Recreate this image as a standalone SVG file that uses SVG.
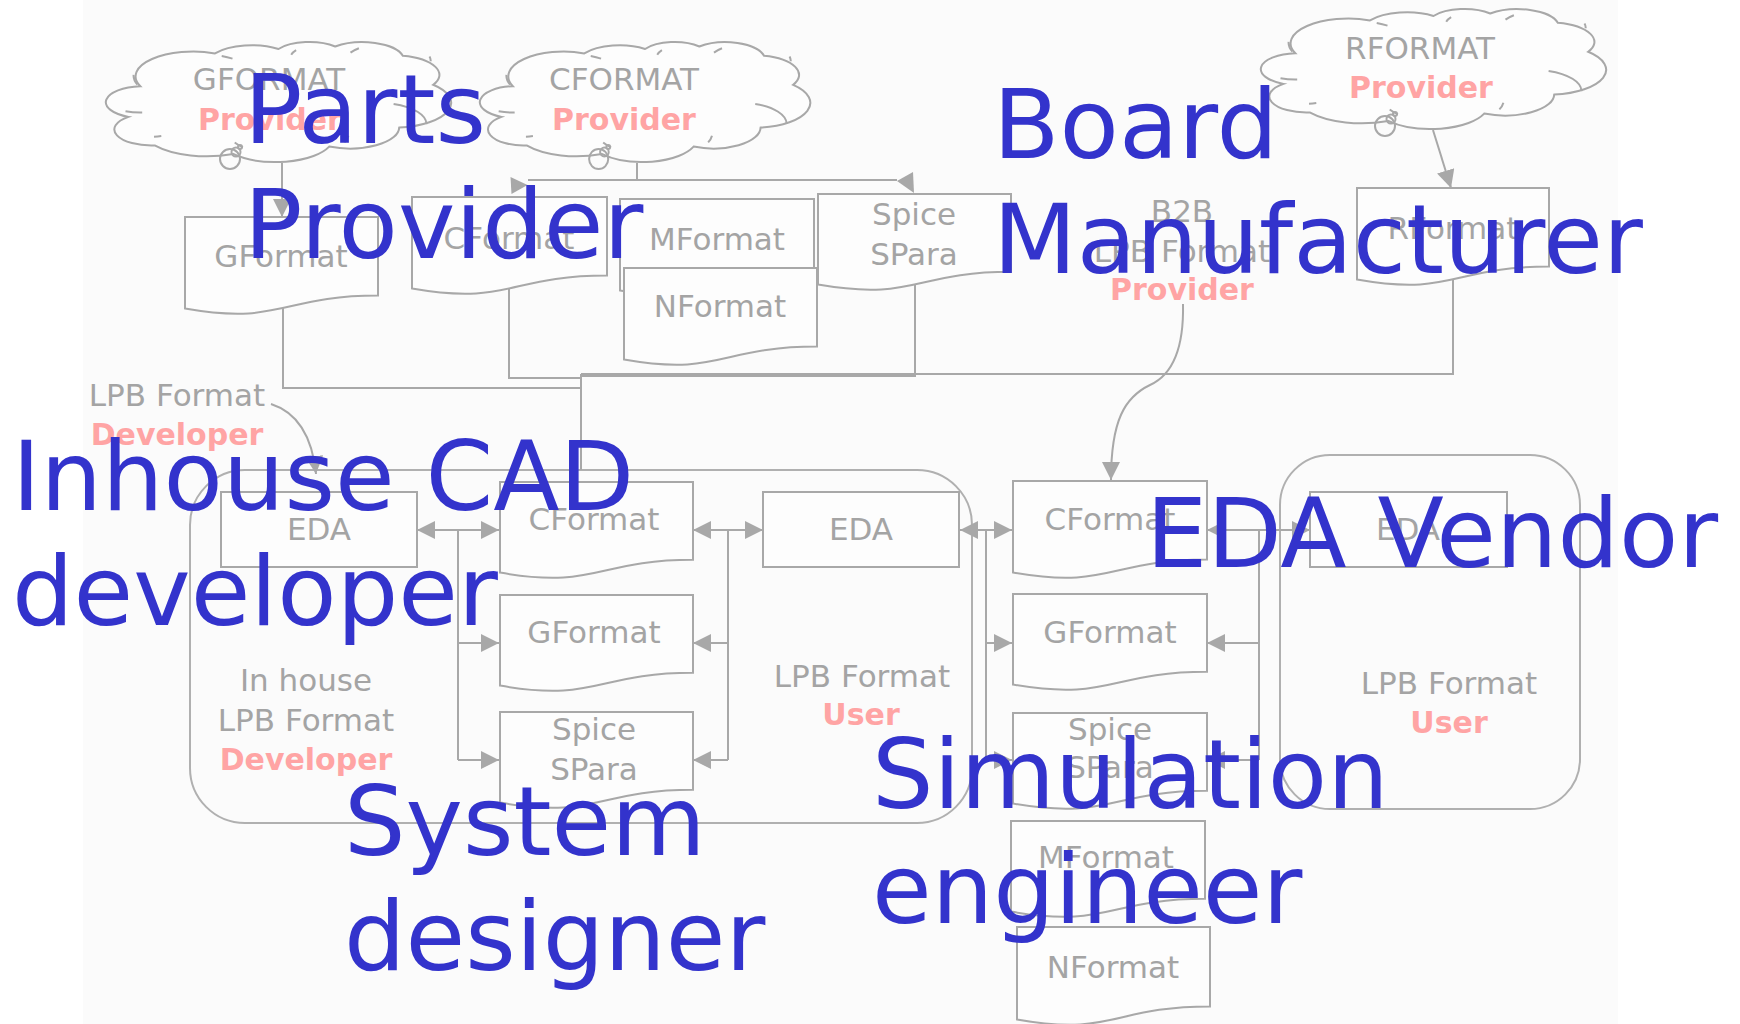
<svg xmlns="http://www.w3.org/2000/svg" width="1740" height="1024" viewBox="0 0 1740 1024">
<style>
  .ln{fill:none;stroke:#a8a8a8;stroke-width:2}
  .sh{fill:#fdfdfd;stroke:#a8a8a8;stroke-width:2}
  .fr{fill:none;stroke:#b0b0b0;stroke-width:2}
  .t{font-family:"DejaVu Sans",Verdana,sans-serif;font-size:31px;fill:#a4a4a4;text-anchor:middle}
  .p{font-family:"DejaVu Sans",Verdana,sans-serif;font-size:30px;font-weight:bold;fill:#ffa4a4;text-anchor:middle}
  .big{font-family:"DejaVu Sans",Verdana,sans-serif;font-size:97px;fill:#3333cc}
  .ah{fill:#a8a8a8}
</style>
<defs>
  <marker id="arrow" viewBox="0 0 18 18" refX="18" refY="9" markerWidth="18" markerHeight="18" markerUnits="userSpaceOnUse" orient="auto-start-reverse">
    <path d="M0,0L18,9L0,18z" class="ah"/>
  </marker>
  <!-- callout cloud, 345 x 120 -->
  <g id="cloud">
    <path class="sh" vector-effect="non-scaling-stroke" d="M34.3,44.2A57.7,24.8 0 0 1 109,11.4A45.6,19.6 0 0 1 172.5,7A37.3,16 0 0 1 229.2,4.5A41.5,17.8 0 0 1 296.8,13.7A45.6,19.6 0 0 1 327.2,42.8A57.9,24.9 0 0 1 293.2,85.6A49.4,21.2 0 0 1 223.2,104.6A57.7,24.9 0 0 1 127.2,111.9A65.9,28.5 0 0 1 48.7,103.4A37.2,16 0 0 1 22.5,74.9A37.1,16 0 0 1 34.3,44.2Z"/>
    <path class="ln" vector-effect="non-scaling-stroke" d="M36.2,70.6A37.1,16 0 0 1 19.5,69.3M55.3,94.1A37.2,16 0 0 1 48,94.7M136.9,105.4A57.7,24.9 0 0 1 128.7,100.5M242.4,93.7A57.7,24.9 0 0 1 238.4,100.4M287.6,61.9A49.4,21.2 0 0 1 320.4,82.1M323.5,14.6A41.5,17.8 0 0 1 324.7,19.2M244.5,10.6A41.5,17.8 0 0 1 252.9,6.3M185.2,12.7A37.3,16 0 0 1 190.1,8.2M115.7,14A57.7,24.8 0 0 1 126.5,16.6M31.4,42.6A57.7,24.8 0 0 1 27.6,32.9"/>
    <circle class="ln" vector-effect="non-scaling-stroke" cx="124" cy="117" r="10"/>
    <circle class="ln" vector-effect="non-scaling-stroke" cx="130" cy="110" r="4.5"/>
    <circle class="ln" vector-effect="non-scaling-stroke" cx="134" cy="105" r="2"/>
  </g>
</defs>

<rect width="1740" height="1024" fill="#ffffff"/>
<rect x="83" y="0" width="1535" height="1024" fill="#fbfbfb"/>

<!-- role frames -->
<g id="system-frame">
  <rect class="fr" x="190" y="470" width="782" height="353" rx="55"/>
  <text class="t" x="306" y="691">In house</text>
  <text class="t" x="306" y="731">LPB Format</text>
  <text class="p" x="306" y="770">Developer</text>
  <text class="t" x="862" y="687">LPB Format</text>
  <text class="p" x="861" y="725">User</text>
</g>
<g id="vendor-frame">
  <rect class="fr" x="1280" y="455" width="300" height="354" rx="50"/>
  <text class="t" x="1449" y="694">LPB Format</text>
  <text class="p" x="1449" y="733">User</text>
</g>

<!-- providers -->
<g id="gformat-provider">
  <use href="#cloud" x="106" y="42"/>
  <text class="t" x="269" y="90">GFORMAT</text>
  <text class="p" x="270" y="130">Provider</text>
</g>
<g id="cformat-provider">
  <use href="#cloud" transform="translate(480,42) scale(0.957,1)"/>
  <text class="t" x="624" y="90">CFORMAT</text>
  <text class="p" x="624" y="130">Provider</text>
</g>
<g id="rformat-provider">
  <use href="#cloud" x="1261" y="9"/>
  <text class="t" x="1420" y="59">RFORMAT</text>
  <text class="p" x="1421" y="98">Provider</text>
</g>
<g id="b2b-provider">
  <text class="t" x="1182" y="222">B2B</text>
  <text class="t" x="1182" y="262">LPB Format</text>
  <text class="p" x="1182" y="300">Provider</text>
</g>
<g id="lpb-developer">
  <text class="t" x="177" y="406">LPB Format</text>
  <text class="p" x="177" y="445">Developer</text>
</g>

<!-- connectors -->
<g id="connectors">
  <path class="ln" d="M282,163V217" marker-end="url(#arrow)"/>
  <path class="ln" d="M637,163V180H528M637,180H897"/>
  <path class="ah" d="M510.5,177L527.5,185L511.5,194Z"/>
  <path class="ah" d="M913,172L897,181L914,193Z"/>
  <path class="ln" d="M1433,130L1451,188" marker-end="url(#arrow)"/>
  <path class="ln" d="M283,308V388H581M509,288V378H581M915,285V376H581M1453,280V374H581M581,374V470"/>
  <path class="ln" d="M1183,304C1184,350 1172,375 1150,385C1125,397 1111,420 1111,480" marker-end="url(#arrow)"/>
  <path class="ln" d="M271,404C296,412 312,435 316,474" marker-end="url(#arrow)"/>

  <path class="ln" d="M417,530H499" marker-start="url(#arrow)" marker-end="url(#arrow)"/>
  <path class="ln" d="M458,530V760"/>
  <path class="ln" d="M458,643H499" marker-end="url(#arrow)"/>
  <path class="ln" d="M458,760H499" marker-end="url(#arrow)"/>

  <path class="ln" d="M693,530H763" marker-start="url(#arrow)" marker-end="url(#arrow)"/>
  <path class="ln" d="M728,530V760"/>
  <path class="ln" d="M728,643H693" marker-end="url(#arrow)"/>
  <path class="ln" d="M728,760H693" marker-end="url(#arrow)"/>

  <path class="ln" d="M960,530H1012" marker-start="url(#arrow)" marker-end="url(#arrow)"/>
  <path class="ln" d="M986,530V760"/>
  <path class="ln" d="M986,643H1012" marker-end="url(#arrow)"/>
  <path class="ln" d="M986,760H1012" marker-end="url(#arrow)"/>

  <path class="ln" d="M1207,530H1310" marker-start="url(#arrow)" marker-end="url(#arrow)"/>
  <path class="ln" d="M1259,530V760"/>
  <path class="ln" d="M1259,643H1207" marker-end="url(#arrow)"/>
  <path class="ln" d="M1259,760H1207" marker-end="url(#arrow)"/>
</g>

<!-- top documents -->
<g id="gformat-top">
  <path class="sh" d="M185,217H378V295.6C281.5,295.6 281.5,325.5 185,308.5Z"/>
  <text class="t" x="281" y="267">GFormat</text>
</g>
<g id="cformat-top">
  <path class="sh" d="M412,197H607V275.6C509.5,275.6 509.5,305.5 412,288.5Z"/>
  <text class="t" x="509" y="249">CFormat</text>
</g>
<g id="mformat-top">
  <path class="sh" d="M620,199H814V277.6C717,277.6 717,307.5 620,290.5Z"/>
  <text class="t" x="717" y="250">MFormat</text>
</g>
<g id="nformat-top">
  <path class="sh" d="M624,268H817V346.6C720.5,346.6 720.5,376.5 624,359.5Z"/>
  <text class="t" x="720" y="317">NFormat</text>
</g>
<g id="spice-top">
  <path class="sh" d="M818,194H1011V271.8C914.5,271.8 914.5,301.4 818,284.6Z"/>
  <text class="t" x="914" y="225">Spice</text>
  <text class="t" x="914" y="265">SPara</text>
</g>
<g id="rformat-top">
  <path class="sh" d="M1357,188H1549V266.6C1453,266.6 1453,296.5 1357,279.5Z"/>
  <text class="t" x="1453" y="239">RFormat</text>
</g>

<!-- in-house tool chain -->
<g id="eda-left">
  <rect class="sh" x="221" y="492" width="196" height="75"/>
  <text class="t" x="319" y="540">EDA</text>
</g>
<g id="cformat-left">
  <path class="sh" d="M500,482H693V559.8C596.5,559.8 596.5,589.4 500,572.6Z"/>
  <text class="t" x="594" y="530">CFormat</text>
</g>
<g id="gformat-left">
  <path class="sh" d="M500,595H693V672.8C596.5,672.8 596.5,702.4 500,685.6Z"/>
  <text class="t" x="594" y="643">GFormat</text>
</g>
<g id="spice-left">
  <path class="sh" d="M500,712H693V789.8C596.5,789.8 596.5,819.4 500,802.6Z"/>
  <text class="t" x="594" y="740">Spice</text>
  <text class="t" x="594" y="780">SPara</text>
</g>
<g id="eda-mid">
  <rect class="sh" x="763" y="492" width="196" height="75"/>
  <text class="t" x="861" y="540">EDA</text>
</g>

<!-- simulation files -->
<g id="cformat-right">
  <path class="sh" d="M1013,481H1207V559.6C1110,559.6 1110,589.5 1013,572.5Z"/>
  <text class="t" x="1110" y="530">CFormat</text>
</g>
<g id="gformat-right">
  <path class="sh" d="M1013,594H1207V671.8C1110,671.8 1110,701.4 1013,684.6Z"/>
  <text class="t" x="1110" y="643">GFormat</text>
</g>
<g id="spice-right">
  <path class="sh" d="M1013,713H1207V790.8C1110,790.8 1110,820.4 1013,803.6Z"/>
  <text class="t" x="1110" y="740">Spice</text>
  <text class="t" x="1110" y="778">SPara</text>
</g>
<g id="mformat-bottom">
  <path class="sh" d="M1011,821H1205V898.8C1108,898.8 1108,928.4 1011,911.6Z"/>
  <text class="t" x="1106" y="868">MFormat</text>
</g>
<g id="nformat-bottom">
  <path class="sh" d="M1017,927H1210V1006.4C1113.5,1006.4 1113.5,1036.6 1017,1019.5Z"/>
  <text class="t" x="1113" y="978">NFormat</text>
</g>
<g id="eda-right">
  <rect class="sh" x="1310" y="492" width="197" height="75"/>
  <text class="t" x="1408" y="540">EDA</text>
</g>

<!-- roles -->
<g id="roles">
  <text class="big" x="244" y="143">Parts</text>
  <text class="big" x="244" y="258">Provider</text>
  <text class="big" x="993" y="158">Board</text>
  <text class="big" x="993" y="273">Manufacturer</text>
  <text class="big" x="12" y="510">Inhouse CAD</text>
  <text class="big" x="12" y="625">developer</text>
  <text class="big" x="1146" y="567">EDA Vendor</text>
  <text class="big" x="872" y="808">Simulation</text>
  <text class="big" x="872" y="923">engineer</text>
  <text class="big" x="344" y="855">System</text>
  <text class="big" x="344" y="970">designer</text>
</g>
</svg>
